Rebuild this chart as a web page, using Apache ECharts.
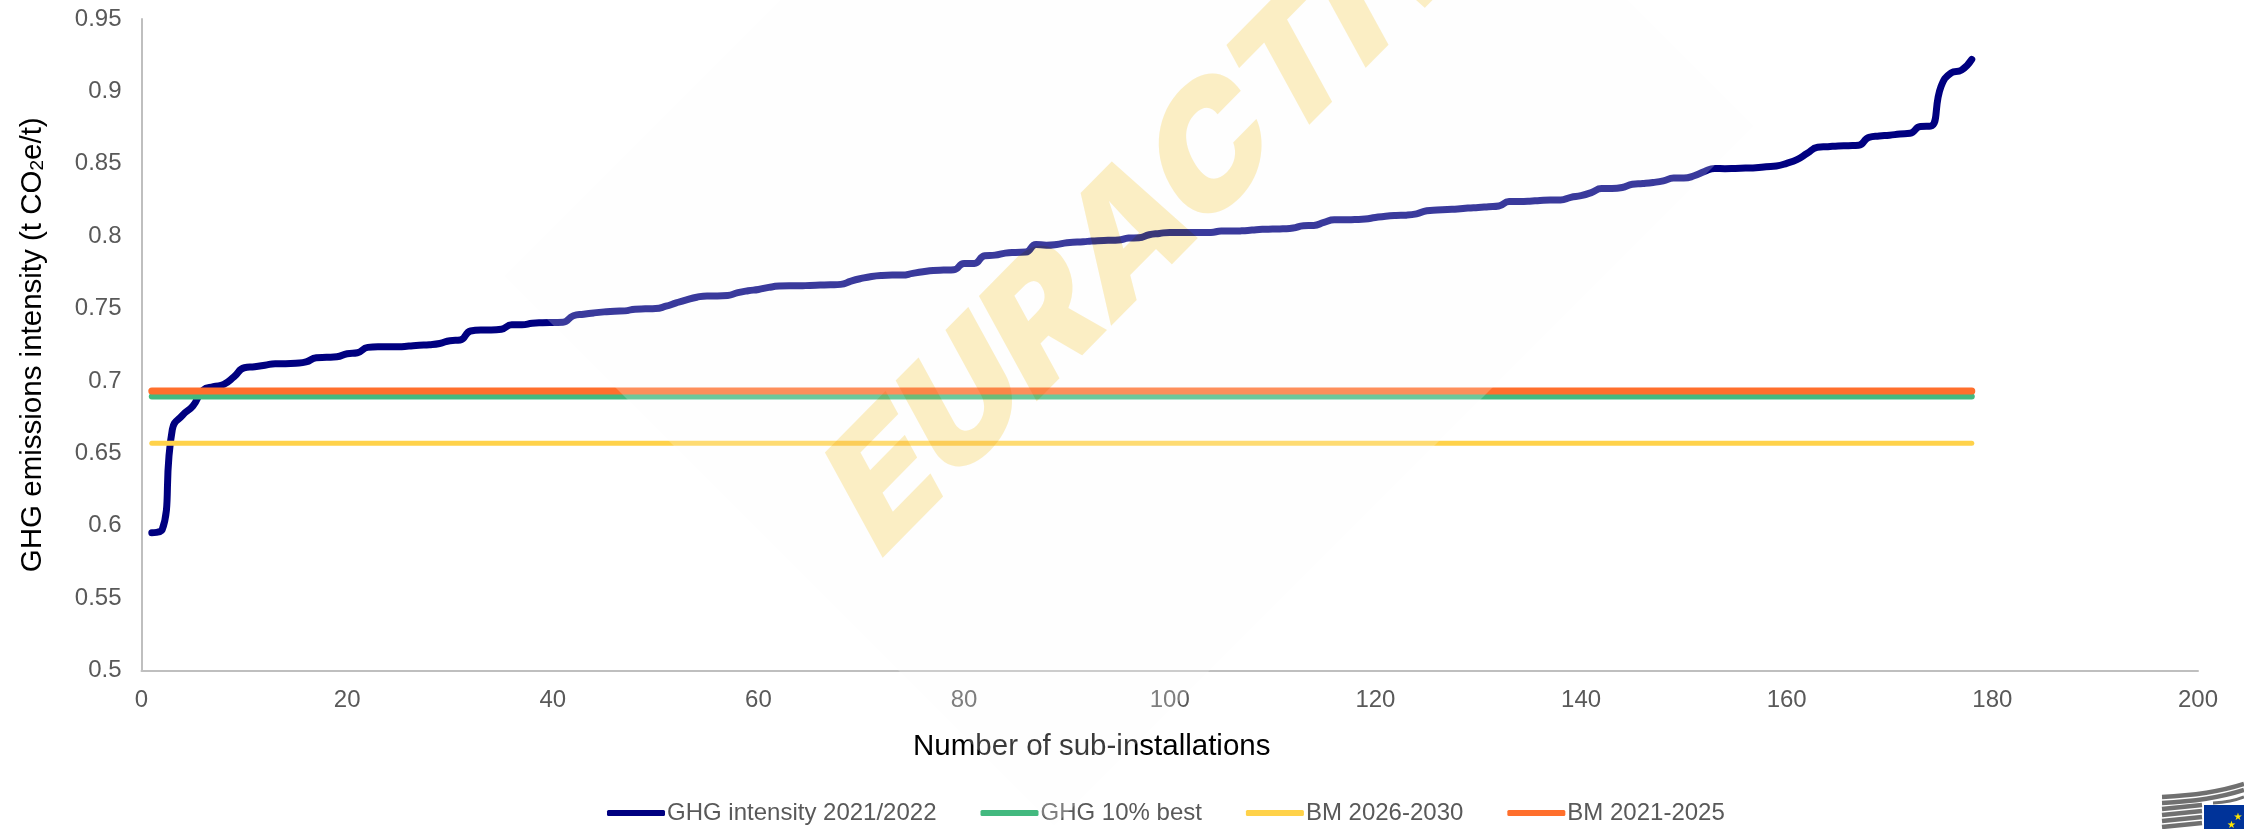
<!DOCTYPE html>
<html>
<head>
<meta charset="utf-8">
<style>html,body{margin:0;padding:0;background:#fff}#chart{width:2244px;height:829px}</style>
<script src="https://cdn.jsdelivr.net/npm/echarts@6/dist/echarts.min.js"></script>
</head>
<body>
<div id="chart"></div>
<script>
// GHG intensity of each sub-installation, sorted ascending (rank 1 to 178)
const ghgIntensity = [
  0.5952,0.597,0.6666,0.6764,0.6827,0.6937,0.696,0.6976,0.7029,0.7091,
  0.7098,0.7108,0.7119,0.7119,0.7122,0.7131,0.716,0.7163,0.7167,0.7188,
  0.7195,0.7232,0.7236,0.7236,0.7236,0.7241,0.7246,0.725,0.7259,0.7278,
  0.7283,0.7345,0.7352,0.7352,0.7357,0.7388,0.7388,0.7398,0.7402,0.7404,
  0.7405,0.745,0.7461,0.747,0.7477,0.7482,0.7484,0.7496,0.7498,0.75,
  0.7516,0.7539,0.756,0.7578,0.7587,0.7587,0.759,0.761,0.7623,0.7632,
  0.7646,0.7655,0.7657,0.7657,0.766,0.7662,0.7664,0.7667,0.769,0.7708,
  0.7722,0.7729,0.7731,0.7731,0.7743,0.7754,0.7763,0.7766,0.7768,0.7812,
  0.7812,0.7865,0.7869,0.7883,0.7888,0.789,0.7943,0.7938,0.7943,0.7955,
  0.7959,0.7964,0.7969,0.7971,0.7973,0.7987,0.7989,0.801,0.8019,0.8026,
  0.8026,0.8026,0.8026,0.8026,0.8035,0.8035,0.8037,0.8042,0.8047,0.8049,
  0.8051,0.8056,0.8072,0.8074,0.8095,0.8113,0.8113,0.8115,0.8118,0.8129,
  0.8138,0.8143,0.8145,0.8154,0.8175,0.818,0.8184,0.8187,0.8194,0.8198,
  0.8203,0.8208,0.824,0.824,0.8242,0.8247,0.825,0.825,0.8268,0.828,
  0.8301,0.8329,0.8329,0.8336,0.8359,0.8364,0.8371,0.8382,0.8401,0.8401,
  0.8417,0.8447,0.8468,0.8466,0.8468,0.8471,0.8473,0.848,0.8485,0.8503,
  0.8529,0.8572,0.8614,0.8618,0.8623,0.8625,0.8628,0.8683,0.8692,0.8697,
  0.8706,0.8711,0.8757,0.876,0.9032,0.9128,0.9147,0.9221
];
// Reference levels, drawn across the full range of sub-installations
const rankRange = [1, 178];
const ghg10Best = 0.6893;
const bm20262030 = 0.6569;
const bm20212025 = 0.693;

const seriesNames = ['GHG intensity 2021/2022', 'GHG 10% best', 'BM 2026-2030', 'BM 2021-2025'];
const seriesColors = ['#000080', '#43B97F', '#FFD24A', '#FF6F2C'];

const flat = v => rankRange.map(x => [x, v]);

// Decompose a 2x2 linear map into rotation, scale, rotation so that the slanted
// stamp can be expressed with nested graphic transforms.
function decompose(a, b, c, d) {
  const E = (a + d) / 2, F = (a - d) / 2, G = (b + c) / 2, H = (b - c) / 2;
  const Q = Math.hypot(E, H), R = Math.hypot(F, G);
  const a1 = Math.atan2(G, F), a2 = Math.atan2(H, E);
  return { sx: Q + R, sy: Q - R, inner: -(a2 - a1) / 2, outer: -(a2 + a1) / 2 };
}
const stamp = decompose(0.7, -0.71, 0.48, 0.877);
const stampZ = 50;

// Emblem at the lower right corner: curved building stripes and a flag panel
const emblem = [];
[
  [2162, 797, 2210, 795, 2244, 784, 4.5],
  [2162, 803, 2210, 801, 2244, 790, 4.5],
  [2213, 803, 2232, 802, 2244, 797, 3],
  [2162, 809, 2182, 807, 2202, 805, 4.5],
  [2162, 815, 2182, 813, 2202, 811, 4.5],
  [2162, 821, 2182, 819, 2202, 817, 4.5],
  [2162, 827, 2182, 825, 2202, 823, 4.5]
].forEach(s => {
  emblem.push({ type: 'bezierCurve', z: 60, silent: true,
    shape: { x1: s[0], y1: s[1], cpx1: s[2], cpy1: s[3], x2: s[4], y2: s[5] },
    style: { stroke: '#707070', lineWidth: s[6], fill: null } });
});
emblem.push({ type: 'rect', z: 60, silent: true, shape: { x: 2204, y: 805, width: 40, height: 24 }, style: { fill: '#003399' } });
[[2238, 817.5], [2231.5, 825]].forEach(p => {
  emblem.push({ type: 'text', z: 61, silent: true, x: p[0], y: p[1],
    style: { text: '★', fill: '#FFE600', font: '10px "DejaVu Sans"', align: 'center', verticalAlign: 'middle' } });
});

const chart = echarts.init(document.getElementById('chart'), null, { renderer: 'canvas' });
const fontFamily = '"Liberation Sans", Arial, sans-serif';
const stampText = 'EURACTIV';

chart.setOption({
  animation: false,
  backgroundColor: '#ffffff',
  grid: { left: 141.5, right: 46, top: 19, bottom: 158.5, containLabel: false, outerBoundsMode: 'none' },
  xAxis: {
    type: 'value', min: 0, max: 200, interval: 20,
    name: 'Number of sub-installations',
    nameLocation: 'middle', nameGap: 61,
    nameTextStyle: { color: '#000', fontSize: 29.5, fontFamily, padding: [0, 156, 0, 0] },
    axisLine: { lineStyle: { color: '#BFBFBF', width: 2 } },
    axisTick: { show: false }, splitLine: { show: false },
    axisLabel: { color: '#595959', fontSize: 24, fontFamily, margin: 18 }
  },
  yAxis: {
    type: 'value', min: 0.5, max: 0.95, interval: 0.05,
    name: 'GHG emissions intensity (t CO{sub|2}e/t)',
    nameLocation: 'middle', nameGap: 94,
    nameTextStyle: { color: '#000', fontSize: 29.5, fontFamily,
      rich: { sub: { fontSize: 19, fontFamily, color: '#000', verticalAlign: 'bottom', padding: [8, 0, 0, 0] } } },
    axisLine: { show: true, lineStyle: { color: '#BFBFBF', width: 2 } },
    axisTick: { show: false }, splitLine: { show: false },
    axisLabel: { color: '#595959', fontSize: 24, fontFamily, margin: 20,
      formatter: v => String(parseFloat(v.toFixed(2))) }
  },
  legend: {
    left: 607, top: 801, padding: 0, itemGap: 44, itemWidth: 58, itemHeight: 6,
    icon: 'roundRect', data: seriesNames,
    textStyle: { color: '#595959', fontSize: 24, fontFamily, padding: [0, 0, 0, -3] }
  },
  series: [
    { name: seriesNames[0], type: 'line', data: ghgIntensity.map((v, i) => [i + 1, v]),
      showSymbol: false, smooth: 0.5, color: seriesColors[0],
      lineStyle: { width: 7, color: seriesColors[0], cap: 'round', join: 'round' } },
    { name: seriesNames[1], type: 'line', data: flat(ghg10Best), showSymbol: false, color: seriesColors[1],
      lineStyle: { width: 6, color: seriesColors[1], cap: 'round' } },
    { name: seriesNames[2], type: 'line', data: flat(bm20262030), showSymbol: false, color: seriesColors[2],
      lineStyle: { width: 5, color: seriesColors[2], cap: 'round' } },
    { name: seriesNames[3], type: 'line', data: flat(bm20212025), showSymbol: false, color: seriesColors[3],
      lineStyle: { width: 7, color: seriesColors[3], cap: 'round' } }
  ],
  graphic: { elements: [
    // Pale diamond behind the stamp lettering
    { type: 'polygon', z: stampZ, silent: true,
      shape: { points: [[1054, 826], [504, 276], [1204, -424], [1754, 126]] },
      style: { fill: 'rgba(250,250,250,0.23)' } },
    // Slanted stamp lettering
    { type: 'group', x: 893, y: 592, rotation: stamp.outer, scaleX: stamp.sx, scaleY: stamp.sy, silent: true,
      children: [{ type: 'group', rotation: stamp.inner, children: [
        { type: 'text', z: stampZ + 1, silent: true, x: 0, y: 0,
          style: { text: stampText, fill: '#FCEFC5',
            font: '900 165px Inter, ' + fontFamily, align: 'left', verticalAlign: 'bottom' } }
      ] }] },
    ...emblem
  ] }
});

// The stamp's glyph spans only exist after the first paint; give them a multiply
// blend there so the lines below keep their strength through the letters.
const zr = chart.getZr();
zr.refreshImmediately();
zr.storage.getDisplayList(true).forEach(el => {
  if (el.style && el.style.text === stampText) {
    el.style.blend = 'multiply';
    el.markRedraw();
  }
});
zr.refreshImmediately();
</script>
</body>
</html>
